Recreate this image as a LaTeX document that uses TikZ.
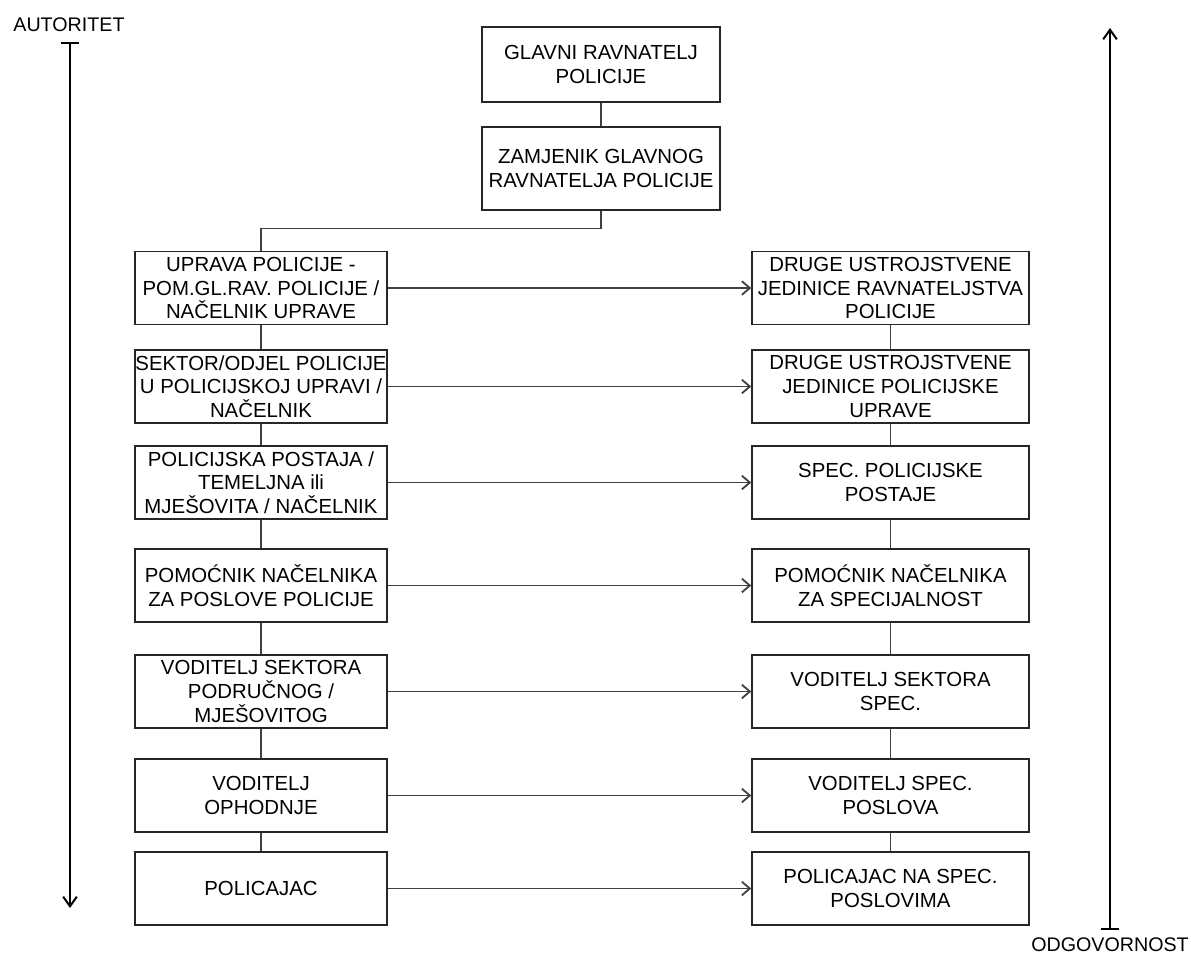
\documentclass[tikz,border=0pt]{standalone}
\usepackage{fontspec}
\setmainfont{Liberation Sans}
\usetikzlibrary{arrows.meta}

\tikzset{
  unit/.style={draw=black!85, line width=1pt, align=center, inner xsep=0pt,
    font=\fontsize{14.5}{16.8}\selectfont},
  leftunit/.style={unit, minimum width=6.3cm, minimum height=1.825cm},
  rightunit/.style={unit, minimum width=6.925cm, minimum height=1.825cm},
  topunit/.style={unit, minimum width=5.95cm},
  link/.style={draw=black!75, line width=1pt},
  flow/.style={link, -{Straight Barb[length=2mm, width=3.4mm, line width=1.3pt]}},
  axis/.style={line width=1.4pt, {Bar[width=4.5mm]}-{Straight Barb[length=2.4mm, width=3.4mm]}},
  axislabel/.style={font=\fontsize{14}{16}\selectfont, inner sep=0pt}
}

\begin{document}
\begin{tikzpicture}[x=0.025cm, y=-0.025cm]
    \useasboundingbox (0,0) rectangle (1191,956);
    % Top of the chain
    \node[topunit, minimum height=1.875cm] (glavni) at (601,64.5) {GLAVNI RAVNATELJ\\POLICIJE};
    \node[topunit, minimum height=2.075cm] (zamjenik) at (601,168.5) {ZAMJENIK GLAVNOG\\RAVNATELJA POLICIJE};
    % Left column
    \node[leftunit] (uprava) at (261,288) {UPRAVA POLICIJE -\\POM.GL.RAV. POLICIJE /\\NAČELNIK UPRAVE};
    \node[leftunit] (sektor) at (261,386.5) {SEKTOR/ODJEL POLICIJE\\U POLICIJSKOJ UPRAVI /\\NAČELNIK};
    \node[leftunit] (postaja) at (261,482.5) {POLICIJSKA POSTAJA /\\TEMELJNA ili\\MJEŠOVITA / NAČELNIK};
    \node[leftunit] (pomocnik) at (261,585.5) {POMOĆNIK NAČELNIKA\\ZA POSLOVE POLICIJE};
    \node[leftunit] (vodsektora) at (261,691.5) {VODITELJ SEKTORA\\PODRUČNOG /\\MJEŠOVITOG};
    \node[leftunit] (ophodnja) at (261,795.5) {VODITELJ\\OPHODNJE};
    \node[leftunit] (policajac) at (261,888.5) {POLICAJAC};
    % Right column
    \node[rightunit] (ravnateljstvo) at (890.5,288) {DRUGE USTROJSTVENE\\JEDINICE RAVNATELJSTVA\\POLICIJE};
    \node[rightunit] (upravaOst) at (890.5,386.5) {DRUGE USTROJSTVENE\\JEDINICE POLICIJSKE\\UPRAVE};
    \node[rightunit] (specPostaje) at (890.5,482.5) {SPEC. POLICIJSKE\\POSTAJE};
    \node[rightunit] (pomocnikSpec) at (890.5,585.5) {POMOĆNIK NAČELNIKA\\ZA SPECIJALNOST};
    \node[rightunit] (vodsektoraSpec) at (890.5,691.5) {VODITELJ SEKTORA\\SPEC.};
    \node[rightunit] (vodposlova) at (890.5,795.5) {VODITELJ SPEC.\\POSLOVA};
    \node[rightunit] (policajacSpec) at (890.5,888.5) {POLICAJAC NA SPEC.\\POSLOVIMA};
    % Vertical links
    \draw[link] (glavni) -- (zamjenik);
    \draw[link] (zamjenik.south) -- ++(0,18) -| (uprava.north);
    \draw[link] (uprava) -- (sektor);
    \draw[link] (sektor) -- (postaja);
    \draw[link] (postaja) -- (pomocnik);
    \draw[link] (pomocnik) -- (vodsektora);
    \draw[link] (vodsektora) -- (ophodnja);
    \draw[link] (ophodnja) -- (policajac);
    \draw[link] (ravnateljstvo) -- (upravaOst);
    \draw[link] (upravaOst) -- (specPostaje);
    \draw[link] (specPostaje) -- (pomocnikSpec);
    \draw[link] (pomocnikSpec) -- (vodsektoraSpec);
    \draw[link] (vodsektoraSpec) -- (vodposlova);
    \draw[link] (vodposlova) -- (policajacSpec);
    % Horizontal arrows
    \draw[flow] (uprava) -- (ravnateljstvo);
    \draw[flow] (sektor) -- (upravaOst);
    \draw[flow] (postaja) -- (specPostaje);
    \draw[flow] (pomocnik) -- (pomocnikSpec);
    \draw[flow] (vodsektora) -- (vodsektoraSpec);
    \draw[flow] (ophodnja) -- (vodposlova);
    \draw[flow] (policajac) -- (policajacSpec);
    % Side axes
    \node[axislabel] (autoritet) at (69,25) {AUTORITET};
    \coordinate (autStart) at (70,42);
    \coordinate (autEnd) at (70,908);
    \draw[axis] (autStart) -- (autEnd);
    \node[axislabel] (odgovornost) at (1110,945) {ODGOVORNOST};
    \coordinate (odgStart) at (1110,930);
    \coordinate (odgEnd) at (1110,28);
    \draw[axis] (odgStart) -- (odgEnd);
\end{tikzpicture}
\end{document}
